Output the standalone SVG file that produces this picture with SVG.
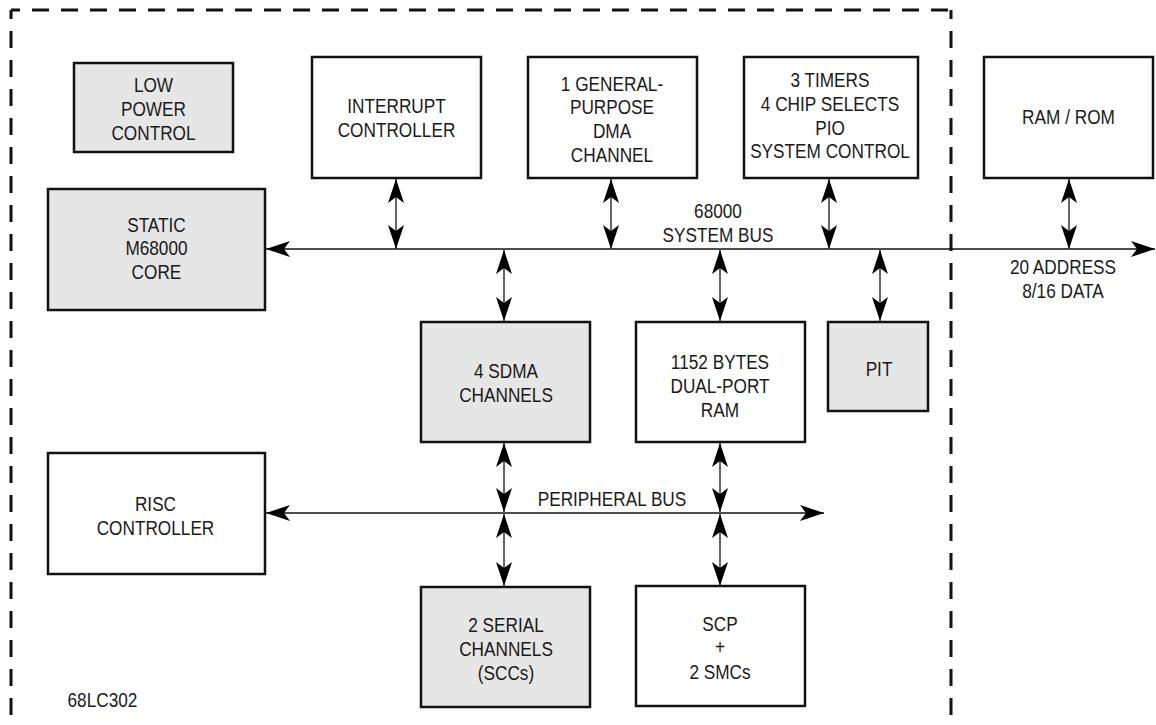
<svg xmlns="http://www.w3.org/2000/svg" width="1156" height="725" viewBox="0 0 1156 725">
<style>
  .box { fill: #ffffff; stroke: #111111; stroke-width: 2.5; }
  .shade { fill: #e6e6e6; }
  .t { font-family: "Liberation Sans", Arial, sans-serif; font-size: 20.5px; fill: #1a1a1a; text-anchor: middle; transform: scaleX(0.84); transform-box: fill-box; transform-origin: center; }
  .bus { stroke: #111111; stroke-width: 1.6; fill: none; }
  .link { stroke: #333333; stroke-width: 1.5; fill: none; marker-start: url(#ah); marker-end: url(#ah); }
  .border { stroke: #111111; stroke-width: 3; fill: none; stroke-dasharray: 17 12; }
</style>
<defs>
  <marker id="ah" viewBox="0 0 24 16" refX="24" refY="8" markerWidth="24" markerHeight="16" markerUnits="userSpaceOnUse" orient="auto-start-reverse">
    <path d="M0,0 L24,8 L0,16 L6,8 z" fill="#000000"/>
  </marker>
</defs>
<rect width="1156" height="725" fill="#ffffff"/>

<g id="chip-border">
  <path class="border" d="M11,10 H951" stroke-dashoffset="-21"/>
  <path class="border" d="M11,10 V725" stroke-dashoffset="-21"/>
  <path class="border" d="M951,10 V725" stroke-dashoffset="-21"/>
</g>

<g id="connectors">
  <path class="bus" d="M266,249 H1155" marker-start="url(#ah)" marker-end="url(#ah)"/>
  <path class="bus" d="M266,513 H824" marker-start="url(#ah)" marker-end="url(#ah)"/>
  <path class="link" d="M396,179 V249"/>
  <path class="link" d="M611,179 V249"/>
  <path class="link" d="M829,179 V249"/>
  <path class="link" d="M1069,179 V249"/>
  <path class="link" d="M504,250 V321"/>
  <path class="link" d="M720,250 V321"/>
  <path class="link" d="M880,250 V321"/>
  <path class="link" d="M504,443 V512"/>
  <path class="link" d="M504,514 V586"/>
  <path class="link" d="M720,443 V512"/>
  <path class="link" d="M720,514 V586"/>
</g>

<g id="low-power-control">
  <rect class="box shade" x="74" y="63" width="159" height="89"/>
  <text class="t" x="153.5" y="92">LOW</text>
  <text class="t" x="153.5" y="116">POWER</text>
  <text class="t" x="153.5" y="140">CONTROL</text>
</g>

<g id="static-core">
  <rect class="box shade" x="48" y="189" width="217" height="121"/>
  <text class="t" x="156.5" y="232">STATIC</text>
  <text class="t" x="156.5" y="255.5">M68000</text>
  <text class="t" x="156.5" y="279">CORE</text>
</g>

<g id="interrupt-controller">
  <rect class="box" x="312" y="57" width="169" height="121"/>
  <text class="t" x="396.5" y="113">INTERRUPT</text>
  <text class="t" x="396.5" y="137">CONTROLLER</text>
</g>

<g id="dma-channel">
  <rect class="box" x="528" y="57" width="169" height="121"/>
  <text class="t" x="612" y="91">1 GENERAL-</text>
  <text class="t" x="612" y="114.5">PURPOSE</text>
  <text class="t" x="612" y="138">DMA</text>
  <text class="t" x="612" y="162">CHANNEL</text>
</g>

<g id="timers">
  <rect class="box" x="744" y="57" width="174" height="121"/>
  <text class="t" x="830" y="87">3 TIMERS</text>
  <text class="t" x="830" y="111">4 CHIP SELECTS</text>
  <text class="t" x="830" y="135">PIO</text>
  <text class="t" x="830" y="158">SYSTEM CONTROL</text>
</g>

<g id="ram-rom">
  <rect class="box" x="984" y="57" width="169" height="121"/>
  <text class="t" x="1068.5" y="124">RAM / ROM</text>
</g>

<g id="system-bus-label">
  <text class="t" x="718" y="218">68000</text>
  <text class="t" x="718" y="242">SYSTEM BUS</text>
</g>

<g id="external-bus-label">
  <text class="t" x="1063" y="274">20 ADDRESS</text>
  <text class="t" x="1063" y="298">8/16 DATA</text>
</g>

<g id="sdma-channels">
  <rect class="box shade" x="421" y="322" width="169" height="120"/>
  <text class="t" x="506" y="378">4 SDMA</text>
  <text class="t" x="506" y="402">CHANNELS</text>
</g>

<g id="dual-port-ram">
  <rect class="box" x="636" y="322" width="169" height="120"/>
  <text class="t" x="720" y="369">1152 BYTES</text>
  <text class="t" x="720" y="393">DUAL-PORT</text>
  <text class="t" x="720" y="417">RAM</text>
</g>

<g id="pit">
  <rect class="box shade" x="828" y="322" width="100" height="89"/>
  <text class="t" x="879" y="376">PIT</text>
</g>

<g id="risc-controller">
  <rect class="box" x="48" y="453" width="217" height="121"/>
  <text class="t" x="155.5" y="511">RISC</text>
  <text class="t" x="155.5" y="535">CONTROLLER</text>
</g>

<g id="peripheral-bus-label">
  <text class="t" x="612" y="506">PERIPHERAL BUS</text>
</g>

<g id="serial-channels">
  <rect class="box shade" x="421" y="587" width="169" height="120"/>
  <text class="t" x="506" y="632">2 SERIAL</text>
  <text class="t" x="506" y="656">CHANNELS</text>
  <text class="t" x="506" y="680">(SCCs)</text>
</g>

<g id="scp-smc">
  <rect class="box" x="636" y="586" width="169" height="120"/>
  <text class="t" x="720" y="631">SCP</text>
  <text class="t" x="720" y="654">+</text>
  <text class="t" x="720" y="679">2 SMCs</text>
</g>

<g id="chip-label">
  <text class="t" x="102.5" y="707">68LC302</text>
</g>
</svg>
